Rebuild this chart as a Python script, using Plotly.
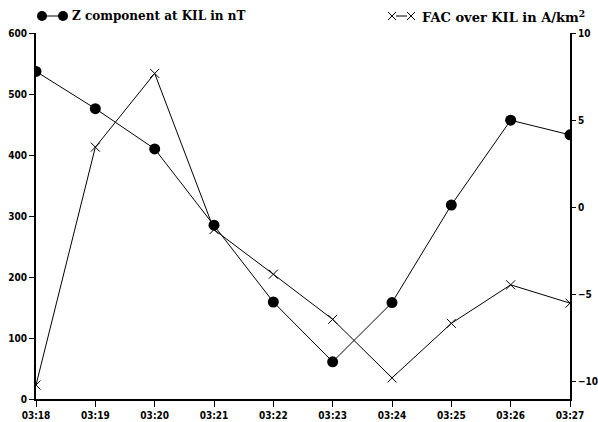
import plotly.graph_objects as go

times = ["03:18", "03:19", "03:20", "03:21", "03:22", "03:23", "03:24", "03:25", "03:26", "03:27"]
z_nT = [537, 476, 410, 285, 159, 61, 158, 318, 457, 433]
fac = [-10.2, 3.45, 7.68, -1.28, -3.84, -6.43, -9.79, -6.66, -4.45, -5.5]
left_ticks = [0, 100, 200, 300, 400, 500, 600]
right_ticks = [-10, -5, 0, 5, 10]
z_name = "Z component at KIL in nT"
fac_name = "FAC over KIL in A/km<sup>2</sup>"

xs = list(range(len(times)))

fig = go.Figure()
fig.add_trace(go.Scatter(
    x=xs, y=z_nT, mode="lines+markers", name=z_name,
    line=dict(color="black", width=1),
    marker=dict(symbol="circle", size=11, color="black"),
    yaxis="y", showlegend=False,
))
fig.add_trace(go.Scatter(
    x=xs, y=fac, mode="lines+markers", name=fac_name,
    line=dict(color="black", width=1),
    marker=dict(symbol="x-thin", size=9, color="black", line=dict(color="black", width=1)),
    yaxis="y2", showlegend=False,
))

tickfont = dict(family="Liberation Sans Narrow, DejaVu Sans Condensed, Arial Narrow, sans-serif",
                size=10, color="black", weight="bold")

fig.update_layout(
    width=598, height=422,
    margin=dict(l=36, r=28, t=33, b=23, pad=0),
    paper_bgcolor="white", plot_bgcolor="white",
    xaxis=dict(
        range=[0, 9], tickvals=xs, ticktext=times, automargin=False,
        showgrid=False, zeroline=False, showline=True, linecolor="black", linewidth=2,
        ticks="outside", ticklen=6, tickwidth=1, tickcolor="black", tickfont=tickfont,
    ),
    yaxis=dict(
        range=[0, 600], tickvals=left_ticks, automargin=False,
        showgrid=False, zeroline=False, showline=True, linecolor="black", linewidth=2,
        ticks="outside", ticklen=5, tickwidth=1, tickcolor="black", tickfont=tickfont,
    ),
    yaxis2=dict(
        range=[-11, 10], tickvals=right_ticks, overlaying="y", side="right", automargin=False,
        showgrid=False, zeroline=False, showline=True, linecolor="black", linewidth=2,
        ticks="outside", ticklen=4, tickwidth=1, tickcolor="black", tickfont=tickfont,
    ),
)

legfont = dict(family="DejaVu Serif, Liberation Serif, serif", size=12, color="black", weight="bold")
legfont2 = dict(family="DejaVu Serif, Liberation Serif, serif", size=13, color="black", weight="bold")
ly = 16
# left legend symbol: dot - line - dot
fig.add_shape(type="line", xref="paper", yref="paper", xsizemode="pixel", ysizemode="pixel",
              xanchor=0, yanchor=1, x0=42 - 36, x1=63 - 36, y0=33 - ly, y1=33 - ly,
              line=dict(color="black", width=1))
for cx in (42, 63):
    fig.add_shape(type="circle", xref="paper", yref="paper", xsizemode="pixel", ysizemode="pixel",
                  xanchor=0, yanchor=1, x0=cx - 36 - 5, x1=cx - 36 + 5, y0=33 - ly - 5, y1=33 - ly + 5,
                  fillcolor="black", line=dict(color="black", width=0))
fig.add_annotation(text=z_name, xref="paper", yref="paper", x=0, y=1,
                   xshift=70 - 36, yshift=33 - ly, xanchor="left", yanchor="middle",
                   showarrow=False, font=legfont)
# right legend symbol: x - line - x
fig.add_shape(type="line", xref="paper", yref="paper", xsizemode="pixel", ysizemode="pixel",
              xanchor=1, yanchor=1, x0=396 - 570, x1=407 - 570, y0=33 - ly, y1=33 - ly,
              line=dict(color="black", width=1))
for cx in (392, 411):
    for sgn in (1, -1):
        fig.add_shape(type="line", xref="paper", yref="paper", xsizemode="pixel", ysizemode="pixel",
                      xanchor=1, yanchor=1, x0=cx - 570 - 4, x1=cx - 570 + 4,
                      y0=33 - ly - 4 * sgn, y1=33 - ly + 4 * sgn,
                      line=dict(color="black", width=1))
fig.add_annotation(text=fac_name, xref="paper", yref="paper", x=1, y=1,
                   xshift=420 - 570, yshift=33 - ly, xanchor="left", yanchor="middle",
                   showarrow=False, font=legfont2)

fig.write_html("out.html")
